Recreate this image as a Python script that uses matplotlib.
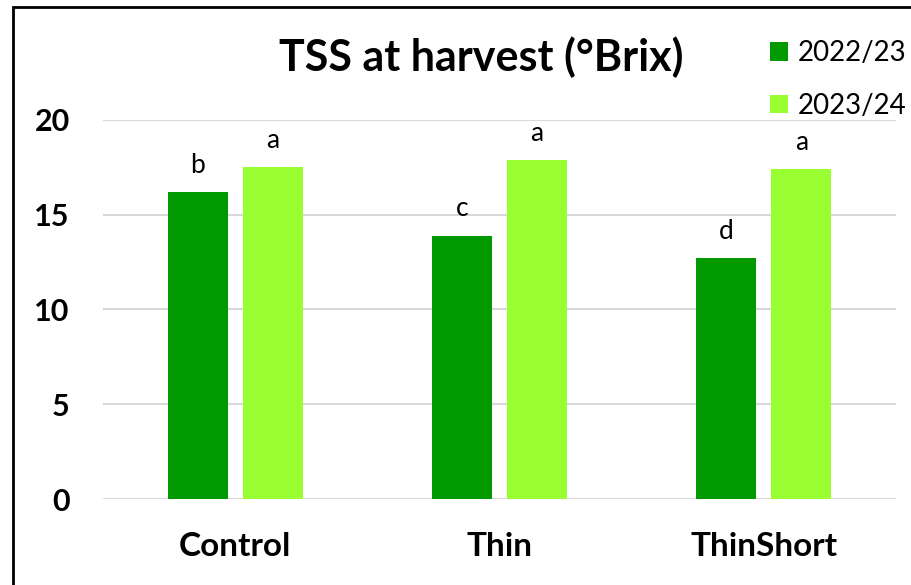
import matplotlib.pyplot as plt
import numpy as np
from matplotlib.patches import Rectangle

categories = ['Control', 'Thin', 'ThinShort']
seasons = ['2022/23', '2023/24']
tss_2022 = [16.2, 13.9, 12.7]
tss_2023 = [17.5, 17.9, 17.4]
letters_2022 = ['b', 'c', 'd']
letters_2023 = ['a', 'a', 'a']

plt.rcParams['font.family'] = ['Lato', 'DejaVu Sans']

fig = plt.figure(figsize=(9.12, 5.85), dpi=100)
ax = fig.add_axes([0.1129, 0.147, 0.8696, 0.648])

x = np.arange(len(categories))
w = 0.227
off = 0.142
b1 = ax.bar(x - off, tss_2022, w, color='#009900', label=seasons[0], zorder=3)
b2 = ax.bar(x + off, tss_2023, w, color='#99FF33', label=seasons[1], zorder=3)

# significance letters above each bar
for bars, letters in ((b1, letters_2022), (b2, letters_2023)):
    for rect, lt in zip(bars, letters):
        ax.text(rect.get_x() + rect.get_width() / 2, rect.get_height() + 0.75, lt,
                ha='center', va='bottom', fontsize=19, clip_on=False)

ax.set_xlim(-0.5, 2.5)
ax.set_ylim(0, 20)
ax.set_yticks([0, 5, 10, 15, 20])
ax.set_xticks(x)
ax.set_xticklabels(categories, fontsize=24, fontweight='bold')
for t in ax.get_yticklabels():
    t.set_fontsize(22)
    t.set_fontweight('bold')
ax.tick_params(length=0)
ax.tick_params(axis='y', pad=24)
ax.tick_params(axis='x', pad=24)
ax.grid(axis='y', color='#d9d9d9', linewidth=1.5, zorder=0)
for s in ax.spines.values():
    s.set_visible(False)

fig.text(0.528, 0.902, 'TSS at harvest (°Brix)', ha='center', va='center',
         fontsize=31, fontweight='bold')

fig.legend(handles=[b1, b2], labels=seasons, loc='upper left',
           bbox_to_anchor=(0.832, 0.95), frameon=False, fontsize=20,
           handlelength=0.65, handleheight=0.65, handletextpad=0.35,
           labelspacing=0.95, borderaxespad=0)

fig.patches.append(Rectangle((13.5 / 912, -0.1), 1.0, 1.1 - 7.5 / 585,
                             transform=fig.transFigure, fill=False,
                             edgecolor='black', linewidth=2))

fig.savefig('out.png', dpi=100)
